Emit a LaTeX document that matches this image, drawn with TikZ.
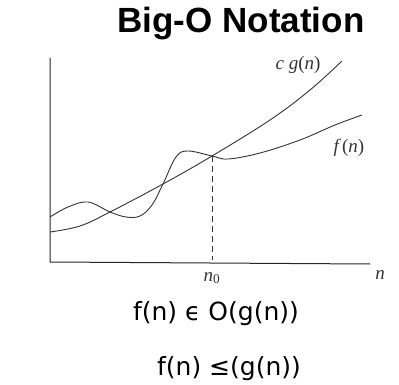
\documentclass[tikz,border=0pt]{standalone}
\usepackage{fontspec}
\setmainfont{Liberation Serif}
\newfontfamily\titlefont{Liberation Sans}
\newfontfamily\formfont{DejaVu Sans}
\begin{document}
\begin{tikzpicture}[x=1pt,y=-1pt,
  curve/.style={line width=0.9pt,black!80},
  axis/.style={line width=1pt,black!85},
  lbl/.style={inner sep=0pt,text=black!80,font=\fontsize{19}{19}\selectfont}]
\useasboundingbox (0,0) rectangle (399,385);
% title
\node[anchor=base,inner sep=0pt,font=\titlefont\bfseries\fontsize{35}{35}\selectfont] (title) at (241,33) {Big-O Notation};
% axes
\coordinate (ytop) at (50,58);
\coordinate (origin) at (50,262);
\coordinate (xend) at (370,264);
\draw[axis] (ytop) -- (origin) -- (xend);
% intersection / n0
\coordinate (n0top) at (212,156);
\coordinate (n0bot) at (212,260);
\draw[line width=0.9pt,black!80,dash pattern=on 6pt off 4pt] (n0top) -- (n0bot);
% c g(n)
\draw[curve] plot[smooth,tension=0.6] coordinates {(50,232) (80,226) (110,212) (163,184) (212,156) (270,120) (310,90) (342,61)};
% f(n)
\draw[curve] plot[smooth,tension=0.6] coordinates {(50,217) (68,207) (88,202) (110,212) (126,217) (140,216) (152,205) (163,184) (176,157) (188,151) (212,156) (228,159) (260,153) (300,140) (335,125) (362,115)};
% labels
\node[lbl,anchor=base] (cg) at (298,70) {\textit{c g}(\textit{n})};
\node[lbl,anchor=base] (fn) at (349,153) {\textit{f\,}(\textit{n})};
\node[lbl,anchor=base] (n0) at (212,281) {\textit{n}\textsubscript{0}};
\node[lbl,anchor=base] (nn) at (380,279) {\textit{n}};
% formulas
\node[anchor=base,inner sep=0pt,font=\formfont\fontsize{25}{25}\selectfont] (f1) at (216,320) {f(n) ϵ O(g(n))};
\node[anchor=base,inner sep=0pt,font=\formfont\fontsize{25}{25}\selectfont] (f2) at (229,375) {f(n) ≤(g(n))};
\end{tikzpicture}
\end{document}
